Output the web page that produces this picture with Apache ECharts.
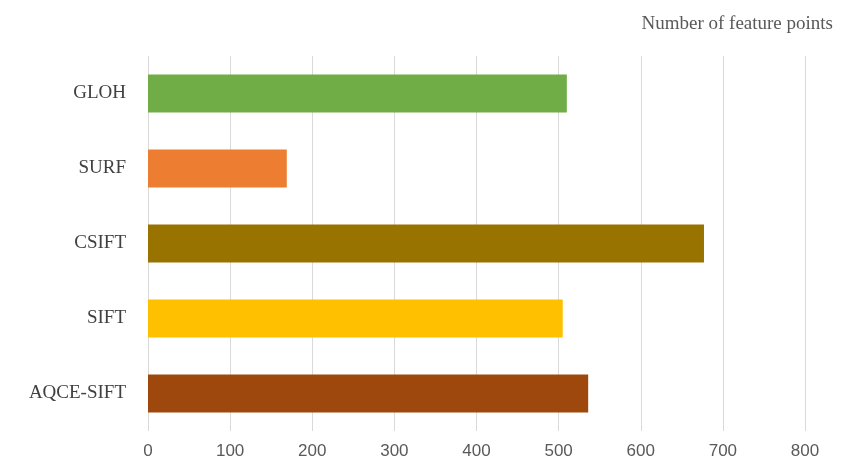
<!DOCTYPE html>
<html>
<head>
<meta charset="utf-8">
<script src="https://cdn.jsdelivr.net/npm/echarts@6/dist/echarts.min.js"></script>
<style>html,body{margin:0;padding:0;background:#fff}#main{width:848px;height:474px}</style>
</head>
<body>
<div id="main"></div>
<script>
// 各方法特征点数量（自下而上）
var methods = ['AQCE-SIFT', 'SIFT', 'CSIFT', 'SURF', 'GLOH'];
var points = [536, 505, 677, 169, 510];
var barColors = ['#9E480E', '#FFC000', '#997300', '#ED7D31', '#70AD47'];
var xTicks = [0, 100, 200, 300, 400, 500, 600, 700, 800];

var chart = echarts.init(document.getElementById('main'));
var option = {
  animation: false,
  title: {
    text: 'Number of feature points',
    right: 10,
    top: 10,
    textStyle: {fontFamily: 'Liberation Serif', fontSize: 19, fontWeight: 'normal', color: '#595959'}
  },
  grid: {left: 148, right: 43, top: 56, bottom: 43},
  xAxis: {
    type: 'value',
    min: xTicks[0],
    max: xTicks[xTicks.length - 1],
    interval: 100,
    axisLine: {show: false},
    axisTick: {show: false},
    splitLine: {lineStyle: {color: '#d9d9d9'}},
    axisLabel: {color: '#595959', fontSize: 17, fontFamily: 'Liberation Sans', margin: 12}
  },
  yAxis: {
    type: 'category',
    data: methods,
    axisLine: {show: false},
    axisTick: {show: false},
    axisLabel: {color: '#404040', fontSize: 19, fontFamily: 'Liberation Serif', margin: 22}
  },
  series: [{
    type: 'bar',
    barWidth: 38,
    data: points.map(function (v, i) {
      return {value: v, itemStyle: {color: barColors[i]}};
    })
  }]
};
chart.setOption(option);
</script>
</body>
</html>
